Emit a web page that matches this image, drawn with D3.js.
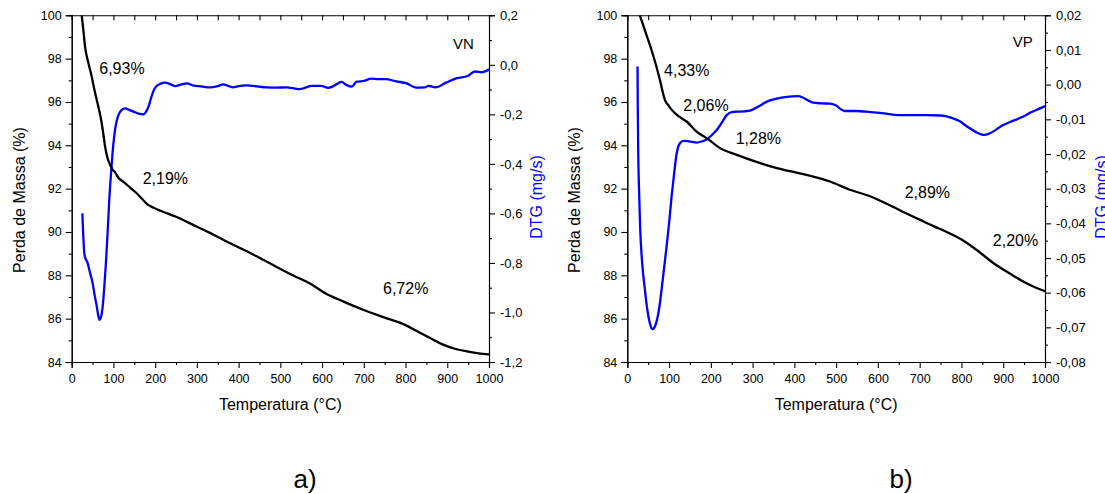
<!DOCTYPE html>
<html>
<head>
<meta charset="utf-8">
<script src="https://cdn.jsdelivr.net/npm/d3@7"></script>
<style>
  html, body { margin: 0; padding: 0; background: #fff; }
  svg { display: block; }
  text { font-family: "Liberation Sans", Arial, sans-serif; fill: #000; }
</style>
</head>
<body>
<svg id="chart" width="1105" height="494"></svg>
<script>
// ---------------- DATA ----------------
// Panel a) VN
const vnTgaT    = [24,28,32,40,48,54,60,66,72,76,80,86,92,98,104,112,125,140,155,170,180,188,204,250,291,330,371,410,451,490,530,571,610,650,700,750,800,830,860,890,920,950,975,1000];
const vnTgaMass = [100,99.3,98.55,97.8,97.17,96.6,96.1,95.6,95.02,94.5,93.94,93.4,93.1,92.88,92.75,92.5,92.3,92.05,91.8,91.5,91.3,91.2,91.05,90.7,90.33,89.97,89.56,89.2,88.8,88.4,88.0,87.62,87.15,86.8,86.4,86.05,85.7,85.4,85.1,84.8,84.6,84.48,84.4,84.35];
const vnDtgT    = [25.5,28,31,38,44,50,55,60,64,67,70,74,78,82,86,90,95,100,105,112,120,128,138,148,160,172,178,184,190,196,202,212,224,236,248,262,276,292,310,331,350,363,375,387,400,419,444,467,490,515,530,547,560,575,598,615,625,636,647,658,671,683,700,718,735,752,778,803,825,846,855,872,897,923,949,966,983,1000];
const vnDtg     = [-0.60,-0.70,-0.77,-0.80,-0.84,-0.88,-0.93,-0.975,-1.015,-1.03,-1.02,-0.98,-0.90,-0.80,-0.68,-0.546,-0.42,-0.317,-0.25,-0.203,-0.182,-0.176,-0.182,-0.189,-0.197,-0.2,-0.19,-0.169,-0.135,-0.105,-0.088,-0.077,-0.072,-0.078,-0.086,-0.08,-0.075,-0.084,-0.087,-0.091,-0.086,-0.079,-0.085,-0.091,-0.086,-0.083,-0.087,-0.091,-0.092,-0.091,-0.094,-0.098,-0.092,-0.085,-0.085,-0.093,-0.088,-0.077,-0.069,-0.081,-0.088,-0.068,-0.065,-0.056,-0.058,-0.058,-0.067,-0.075,-0.092,-0.091,-0.085,-0.091,-0.072,-0.054,-0.045,-0.027,-0.03,-0.018];
const vnLabels  = ["6,93%","2,19%","6,72%","VN"];
const vnLabelT  = [66,170,746,914];
const vnLabelM  = [97.29,92.22,87.15,98.45];

// Panel b) VP
const vpTgaT    = [30,44,58,68,78,90,100,110,126,142,166,190,222,262,318,358,405,445,485,533,581,632,666,700,733,767,800,825,851,876,902,927,951,976,1000];
const vpTgaMass = [100,99.2,98.4,97.75,97.02,96.1,95.8,95.56,95.3,95.1,94.63,94.33,93.87,93.56,93.18,92.95,92.74,92.56,92.33,91.95,91.65,91.2,90.88,90.57,90.27,89.98,89.65,89.33,88.95,88.57,88.25,87.95,87.68,87.45,87.27];
const vpDtgT    = [24.5,25,26,28,31,36,42,48,54,60,66,71,77,82,88,94,100,106,110,114,118,122,128,134,145,155,166,178,190,202,214,226,238,250,262,280,294,314,334,358,382,409,420,432,445,465,485,500,510,520,548,582,615,649,683,716,750,775,795,815,835,855,865,880,895,918,943,968,985,1000];
const vpDtg     = [0.0052,-0.005,-0.018,-0.03,-0.042,-0.052,-0.059,-0.065,-0.0688,-0.0705,-0.0698,-0.0679,-0.064,-0.0592,-0.053,-0.0467,-0.040,-0.0323,-0.028,-0.0237,-0.020,-0.0179,-0.0166,-0.0162,-0.0163,-0.0165,-0.0167,-0.0164,-0.0158,-0.0146,-0.0131,-0.011,-0.0088,-0.0079,-0.0078,-0.0077,-0.0075,-0.0063,-0.0049,-0.004,-0.0035,-0.0033,-0.0037,-0.0045,-0.0052,-0.0054,-0.0055,-0.006,-0.007,-0.0076,-0.0076,-0.0079,-0.0083,-0.0088,-0.0088,-0.0088,-0.0089,-0.0095,-0.0105,-0.0122,-0.0137,-0.0145,-0.0142,-0.0132,-0.012,-0.0107,-0.0095,-0.0079,-0.007,-0.0062];
const vpLabels  = ["4,33%","2,06%","1,28%","2,89%","2,20%","VP"];
const vpLabelT  = [88,134,259.5,664,875,923];
const vpLabelM  = [97.2,95.6,94.07,91.58,89.36,98.54];

// Axes / tick labels
const tempTicks      = [0,100,200,300,400,500,600,700,800,900,1000];
const tempMinor      = [50,150,250,350,450,550,650,750,850,950];
const massTicks      = [84,86,88,90,92,94,96,98,100];
const massMinor      = [85,87,89,91,93,95,97,99];
const vnDtgTicks     = [0.2,0.0,-0.2,-0.4,-0.6,-0.8,-1.0,-1.2];
const vnDtgMinor     = [0.1,-0.1,-0.3,-0.5,-0.7,-0.9,-1.1];
const vpDtgTicks     = [0.02,0.01,0.00,-0.01,-0.02,-0.03,-0.04,-0.05,-0.06,-0.07,-0.08];
const vpDtgMinor     = [0.015,0.005,-0.005,-0.015,-0.025,-0.035,-0.045,-0.055,-0.065,-0.075];
const xTitle   = "Temperatura (°C)";
const yTitle   = "Perda de Massa (%)";
const y2Title  = "DTG (mg/s)";
const panelTags = ["a)","b)"];

// ---------------- DRAW ----------------
const svg = d3.select("#chart");
svg.append("rect").attr("width",1105).attr("height",494).attr("fill","#fff");

function fmt(dec) {
  return v => {
    let s = Math.abs(v) < 1e-12 ? (0).toFixed(dec) : v.toFixed(dec);
    return s.replace(".", ",");
  };
}

function drawPanel(cfg, idx) {
  const x  = d3.scaleLinear().domain([0,1000]).range([cfg.left, cfg.right]);
  const y  = d3.scaleLinear().domain([84,100]).range([cfg.bottom, cfg.top]);
  const y2 = d3.scaleLinear().domain(cfg.dtgDomain).range([cfg.bottom, cfg.top]);
  const g = svg.append("g");

  const clipId = "clip" + idx;
  g.append("clipPath").attr("id", clipId).append("rect")
    .attr("x", cfg.left).attr("y", cfg.top)
    .attr("width", cfg.right - cfg.left).attr("height", cfg.bottom - cfg.top);

  const styleAxis = (sel, fs) => {
    sel.select(".domain").attr("stroke","#000").attr("stroke-width",1.1);
    sel.selectAll(".tick line").attr("stroke","#000").attr("stroke-width",1.1);
    sel.selectAll(".tick text").attr("font-size", fs).attr("fill","#000")
       .attr("font-family", '"Liberation Sans", Arial, sans-serif');
  };

  // bottom axis
  g.append("g").attr("transform",`translate(0,${cfg.bottom})`)
    .call(d3.axisBottom(x).tickValues(tempMinor).tickSize(3).tickFormat(""))
    .call(s => styleAxis(s, 12));
  g.append("g").attr("transform",`translate(0,${cfg.bottom})`)
    .call(d3.axisBottom(x).tickValues(tempTicks).tickSize(6).tickPadding(6).tickFormat(d => String(d)))
    .call(s => styleAxis(s, 12.5));
  // top axis (ticks inward)
  g.append("g").attr("transform",`translate(0,${cfg.top})`)
    .call(d3.axisTop(x).tickValues(tempTicks.concat(tempMinor)).tickSizeInner(-5).tickSizeOuter(0).tickFormat(""))
    .call(s => styleAxis(s, 12));
  // left axis
  g.append("g").attr("transform",`translate(${cfg.left},0)`)
    .call(d3.axisLeft(y).tickValues(massMinor).tickSize(3).tickFormat(""))
    .call(s => styleAxis(s, 12));
  g.append("g").attr("transform",`translate(${cfg.left},0)`)
    .call(d3.axisLeft(y).tickValues(massTicks).tickSize(6).tickPadding(4).tickFormat(d => String(d)))
    .call(s => styleAxis(s, 12.5));
  // right axis
  g.append("g").attr("transform",`translate(${cfg.right},0)`)
    .call(d3.axisRight(y2).tickValues(cfg.dtgMinor).tickSize(3).tickFormat(""))
    .call(s => styleAxis(s, 12));
  g.append("g").attr("transform",`translate(${cfg.right},0)`)
    .call(d3.axisRight(y2).tickValues(cfg.dtgTicks).tickSize(6).tickPadding(5).tickFormat(fmt(cfg.dec)))
    .call(s => styleAxis(s, 13));

  // curves
  const lineT = d3.line().x((d,i) => x(cfg.tgaT[i])).y(d => y(d)).curve(d3.curveMonotoneX);
  const lineD = d3.line().x((d,i) => x(cfg.dtgT[i])).y(d => y2(d)).curve(d3.curveMonotoneX);
  const curves = g.append("g").attr("clip-path", `url(#${clipId})`);
  curves.append("path").attr("d", lineD(cfg.dtg)).attr("fill","none")
    .attr("stroke","#0000ff").attr("stroke-width",2.3).attr("stroke-linejoin","round");
  curves.append("path").attr("d", lineT(cfg.tga)).attr("fill","none")
    .attr("stroke","#000").attr("stroke-width",2.3).attr("stroke-linejoin","round");

  // annotations
  cfg.labels.forEach((t,i) => {
    g.append("text").attr("x", x(cfg.labelT[i])).attr("y", y(cfg.labelM[i]))
      .attr("font-size", t.startsWith("V") ? 15 : 16).text(t);
  });

  // titles
  g.append("text").attr("x", (cfg.left + cfg.right)/2 + cfg.xTitleDx).attr("y", 410)
    .attr("text-anchor","middle").attr("font-size",16).text(xTitle);
  g.append("text").attr("transform",`translate(${cfg.yTitleX},200) rotate(-90)`)
    .attr("text-anchor","middle").attr("font-size",16).text(yTitle);
  g.append("text").attr("transform",`translate(${cfg.y2TitleX},197) rotate(-90)`)
    .attr("text-anchor","middle").attr("font-size",16).style("fill","#0000ff").text(y2Title);
  g.append("text").attr("x", cfg.tagX).attr("y", 488)
    .attr("text-anchor","middle").attr("font-size",26).text(panelTags[idx]);
}

drawPanel({
  left: 71.7, right: 489, top: 15.3, bottom: 362,
  dtgDomain: [-1.2, 0.2], dtgTicks: vnDtgTicks, dtgMinor: vnDtgMinor, dec: 1,
  tgaT: vnTgaT, tga: vnTgaMass, dtgT: vnDtgT, dtg: vnDtg,
  labels: vnLabels, labelT: vnLabelT, labelM: vnLabelM,
  xTitleDx: 0, yTitleX: 25, y2TitleX: 542, tagX: 305
}, 0);

drawPanel({
  left: 627.3, right: 1045, top: 15.3, bottom: 362,
  dtgDomain: [-0.08, 0.02], dtgTicks: vpDtgTicks, dtgMinor: vpDtgMinor, dec: 2,
  tgaT: vpTgaT, tga: vpTgaMass, dtgT: vpDtgT, dtg: vpDtg,
  labels: vpLabels, labelT: vpLabelT, labelM: vpLabelM,
  xTitleDx: 0, yTitleX: 580, y2TitleX: 1107, tagX: 901
}, 1);
</script>
</body>
</html>
